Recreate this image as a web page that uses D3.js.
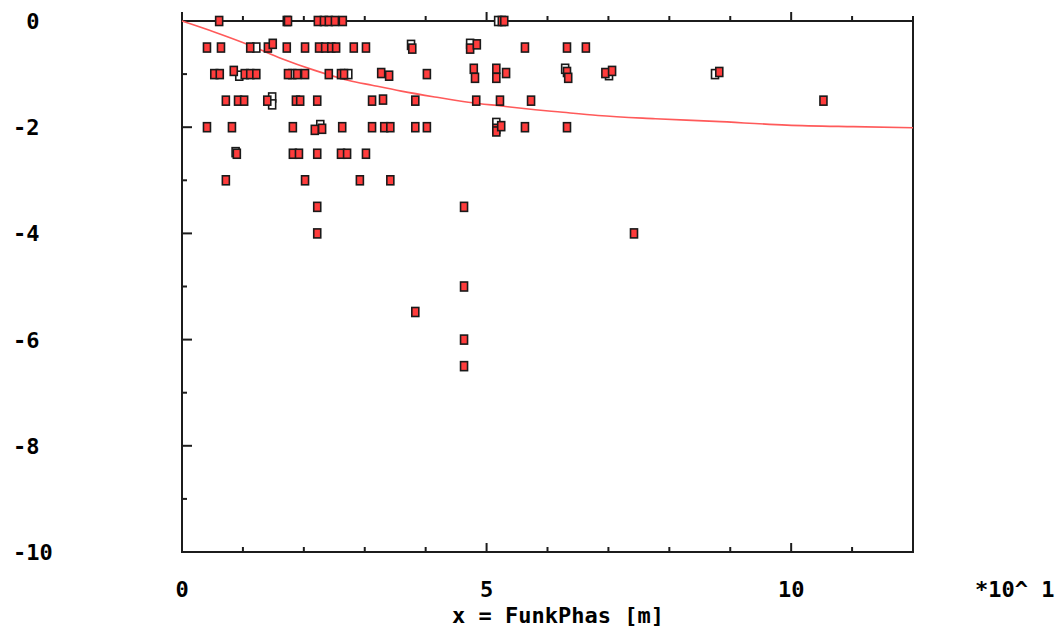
<!DOCTYPE html>
<html>
<head>
<meta charset="utf-8">
<script src="https://cdn.jsdelivr.net/npm/d3@7/dist/d3.min.js"></script>
<style>
  html, body { margin: 0; padding: 0; background: #fff; }
  svg { display: block; }
  text { font-family: "DejaVu Sans Mono", "Liberation Mono", monospace; font-weight: bold; font-size: 22px; fill: #000; white-space: pre; }
</style>
</head>
<body>
<svg id="chart" width="1058" height="628"></svg>
<script>
// Filled measurements: x (in units of 10 m) and y
const filledX = [
  0.61, 1.74, 2.23, 2.33, 2.41, 2.51, 2.64, 5.25, 5.29,
  0.41, 0.64, 1.12, 1.41, 1.49, 1.72, 2.02, 2.25, 2.35, 2.45, 2.53, 2.82, 3.02, 3.78, 4.73, 4.84, 5.63, 6.32, 6.63,
  0.53, 0.62, 0.85, 1.03, 1.12, 1.22, 1.74, 1.89, 2.02, 2.41, 2.61, 2.66, 3.27, 3.40, 4.02, 4.79, 4.81, 5.16, 5.16, 5.32, 6.32, 6.34, 6.95, 7.06, 8.82,
  0.72, 0.92, 1.02, 1.40, 1.87, 1.94, 2.22, 3.12, 3.30, 3.83, 4.83, 5.22, 5.73, 10.53,
  0.41, 0.82, 1.82, 2.18, 2.30, 2.63, 3.12, 3.32, 3.42, 3.83, 4.02, 5.16, 5.16, 5.24, 5.63, 6.32,
  0.90, 1.82, 1.92, 2.22, 2.61, 2.71, 3.02,
  0.72, 2.02, 2.92, 3.42,
  2.22, 4.63, 2.22, 7.42, 4.63, 3.83, 4.63, 4.63
];
const filledY = [
  0, 0, 0, 0, 0, 0, 0, 0, 0,
  -0.5, -0.5, -0.5, -0.5, -0.43, -0.5, -0.5, -0.5, -0.5, -0.5, -0.5, -0.5, -0.5, -0.52, -0.52, -0.44, -0.5, -0.5, -0.5,
  -1, -1, -0.94, -1, -1, -1, -1, -1, -1, -1, -1, -1, -0.98, -1.03, -1, -0.9, -1.07, -0.9, -1.07, -0.98, -0.96, -1.07, -0.98, -0.94, -0.96,
  -1.5, -1.5, -1.5, -1.5, -1.5, -1.5, -1.5, -1.5, -1.48, -1.5, -1.5, -1.5, -1.5, -1.5,
  -2, -2, -2, -2.05, -2.03, -2, -2, -2, -2, -2, -2, -2.03, -2.08, -1.98, -2, -2,
  -2.5, -2.5, -2.5, -2.5, -2.5, -2.5, -2.5,
  -3, -3, -3, -3,
  -3.5, -3.5, -4, -4, -5, -5.48, -6, -6.5
];
// Open (unfilled) measurements
const openX = [5.19, 1.72, 1.22, 3.76, 4.73, 0.94, 1.81, 2.73, 6.29, 7.01, 8.75, 1.48, 1.48, 2.27, 5.16, 0.88];
const openY = [0, 0, -0.5, -0.45, -0.43, -1.03, -1, -1, -0.9, -1.02, -1, -1.44, -1.57, -1.96, -1.92, -2.47];

// Fitted trend curve
const curveX = [0, 0.54, 1.10, 1.64, 2.18, 2.74, 3.12, 3.60, 4.15, 4.70, 5.24, 5.80, 6.17, 6.83, 7.77, 8.75, 9.93, 11.02, 12.0];
const curveY = [0, -0.21, -0.45, -0.71, -0.93, -1.12, -1.21, -1.32, -1.43, -1.53, -1.60, -1.67, -1.71, -1.78, -1.84, -1.89, -1.96, -1.99, -2.01];

// Axis ticks
const xMajorTicks = [0, 5, 10];
const xMinorTicks = [1, 2, 3, 4, 6, 7, 8, 9, 11, 12];
const yMajorTicks = [0, -2, -4, -6, -8, -10];
const yMinorTicks = [-1, -3, -5, -7, -9];
const xTickLabels = ["0", "5", "10"];
const yTickLabels = ["0", "-2", "-4", "-6", "-8", "-10"];
const xExponentLabel = "*10^ 1";
const xTitle = "x = FunkPhas [m]";

const svg = d3.select("#chart");
const plotLeft = 182, plotRight = 913, plotTop = 21, plotBottom = 552;

const x = d3.scaleLinear().domain([0, 12]).range([plotLeft, plotRight]);
const y = d3.scaleLinear().domain([0, -10]).range([plotTop, plotBottom]);

const axisColor = "#1c1c1c";
const g = svg.append("g");

// Frame
const frameLine = (x1, y1, x2, y2) =>
  g.append("line").attr("x1", x1).attr("y1", y1).attr("x2", x2).attr("y2", y2)
    .attr("stroke", axisColor).attr("stroke-width", 2);
frameLine(plotLeft, plotTop, plotRight, plotTop);
frameLine(plotLeft, plotBottom, plotRight, plotBottom);
frameLine(plotLeft, plotTop, plotLeft, plotBottom + 1);
frameLine(plotRight, plotTop, plotRight, plotBottom + 1);

// Top axis ticks point outward, bottom axis ticks point inward
const drawXTicks = (vals, len) => {
  vals.forEach(v => {
    frameLine(x(v), plotTop, x(v), plotTop - len);
    frameLine(x(v), plotBottom, x(v), plotBottom - len);
  });
};
drawXTicks(xMajorTicks, 9);
drawXTicks(xMinorTicks, 5);

// Left axis ticks point inward
const drawYTicks = (vals, len) => {
  vals.forEach(v => frameLine(plotLeft, y(v), plotLeft + len, y(v)));
};
drawYTicks(yMajorTicks.filter(v => v !== 0 && v !== -10), 10);
drawYTicks(yMinorTicks, 5);

// Tick labels
const charW = 13.25;
yMajorTicks.forEach((v, i) => {
  const s = yTickLabels[i];
  svg.append("text")
    .attr("x", 13 + Math.max(0, 2 - s.length) * charW)
    .attr("y", y(v)).attr("dy", "0.36em")
    .text(s);
});
xMajorTicks.forEach((v, i) => {
  svg.append("text").attr("x", x(v)).attr("y", 597)
    .attr("text-anchor", "middle").text(xTickLabels[i]);
});
svg.append("text").attr("x", 975).attr("y", 597).text(xExponentLabel);
svg.append("text").attr("x", 452).attr("y", 623).text(xTitle);

// Trend curve
const line = d3.line().x(d => x(d[0])).y(d => y(d[1])).curve(d3.curveMonotoneX);
svg.append("path")
  .datum(d3.zip(curveX, curveY))
  .attr("d", line)
  .attr("fill", "none")
  .attr("stroke", "#ff5a5a")
  .attr("stroke-width", 1.6);

// Markers: open ones first, filled ones on top
const mw = 7, mh = 9;
svg.append("g").selectAll("rect")
  .data(d3.zip(openX, openY)).join("rect")
  .attr("x", d => x(d[0]) - mw / 2).attr("y", d => y(d[1]) - mh / 2)
  .attr("width", mw).attr("height", mh)
  .attr("fill", "#fff").attr("stroke", "#1a1a1a").attr("stroke-width", 1.6);
svg.append("g").selectAll("rect")
  .data(d3.zip(filledX, filledY)).join("rect")
  .attr("x", d => x(d[0]) - mw / 2).attr("y", d => y(d[1]) - mh / 2)
  .attr("width", mw).attr("height", mh)
  .attr("fill", "#ff3c3c").attr("stroke", "#1a1a1a").attr("stroke-width", 1.6);
</script>
</body>
</html>
